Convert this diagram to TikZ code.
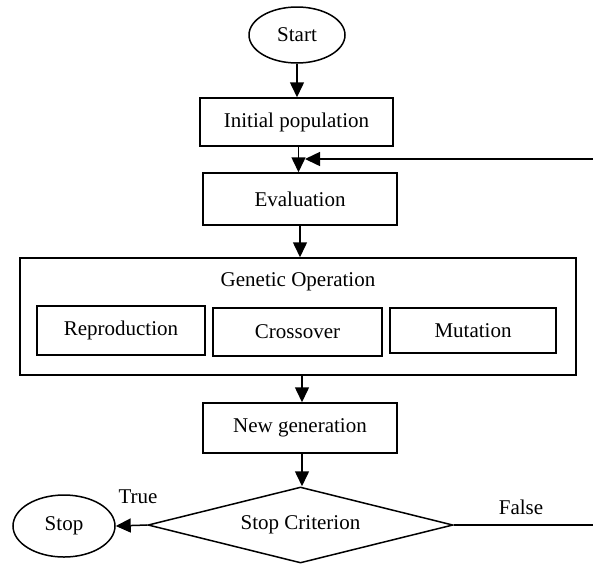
\documentclass[tikz,border=0pt]{standalone}
\usepackage{fontspec}
\setmainfont{Liberation Serif}
\usetikzlibrary{shapes.geometric,arrows.meta}

\tikzset{
  base/.style={draw, line width=1.5pt, inner sep=0pt, font=\fontsize{21}{25}\selectfont},
  box/.style={base, rectangle},
  term/.style={base, ellipse},
  decision/.style={base, diamond, aspect=4},
  flow/.style={line width=1.5pt, -{Triangle[length=15pt,width=14pt]}},
  plain/.style={line width=1.5pt},
  lbl/.style={font=\fontsize{21}{25}\selectfont, inner sep=0pt}
}

\begin{document}
\begin{tikzpicture}[x=1pt,y=-1pt]
\useasboundingbox (0,0) rectangle (593,566);

% terminals
\node[term, minimum width=96pt, minimum height=56pt] (start) at (297,35) {Start};
\node[term, minimum width=102pt, minimum height=62pt] (stop) at (64,526) {Stop};

% process boxes
\node[box, minimum width=193pt, minimum height=48pt] (init) at (296.5,122) {Initial population};
\node[box, minimum width=194pt, minimum height=52pt] (eval) at (300,199) {Evaluation};
\node[box, minimum width=556pt, minimum height=117pt] (gen) at (298,316.5) {};
\node[lbl] (gentitle) at (298,282) {Genetic Operation};
\node[box, minimum width=168pt, minimum height=49pt] (repro) at (121,330.5) {Reproduction};
\node[box, minimum width=169pt, minimum height=48pt] (cross) at (297.5,332) {Crossover};
\node[box, minimum width=166pt, minimum height=45pt] (mut) at (473,330.5) {Mutation};
\node[box, minimum width=194pt, minimum height=50pt] (newgen) at (300,428) {New generation};

% stop test
\node[decision, minimum width=305pt, minimum height=76pt] (crit) at (300.5,525) {Stop Criterion};

% branch labels
\node[lbl] (true) at (138,497) {True};
\node[lbl] (false) at (521,507) {False};

% loop ends at the right border
\coordinate (loopbot) at (593,525);
\coordinate (looptop) at (593,159);
\coordinate (merge) at (305,159);

% main flow
\draw[flow] (start.south) -- (start.south |- init.north);
\draw[flow] (init.south) ++(2,0) coordinate (initout) -- (initout |- eval.north);
\draw[flow] (eval.south) -- (eval.south |- gen.north);
\draw[flow] (gen.south -| newgen.south) ++(2,0) coordinate (genout) -- (genout |- newgen.north);
\draw[flow] (newgen.south) ++(2,0) coordinate (ngout) -- (ngout |- crit.north);
\draw[flow] (crit.west) -- (stop.east);

% feedback loop
\draw[plain] (crit.east) -- (loopbot);
\draw[flow] (looptop) -- (merge);
\end{tikzpicture}
\end{document}
